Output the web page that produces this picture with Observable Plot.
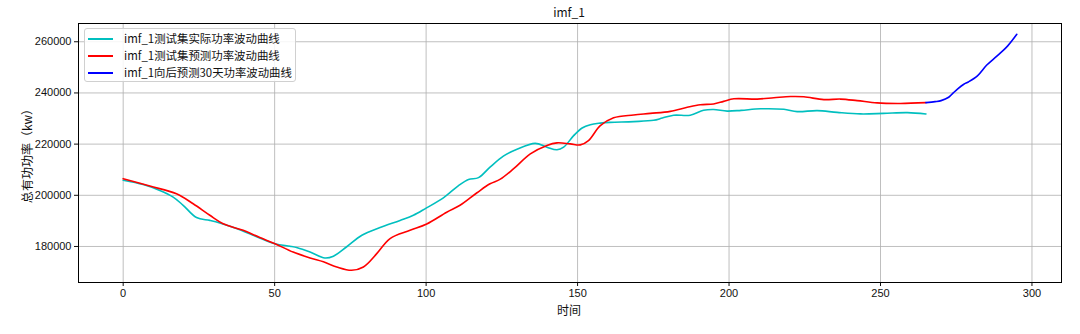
<!DOCTYPE html>
<html><head><meta charset="utf-8">
<script src="https://cdn.jsdelivr.net/npm/d3@7"></script>
<script src="https://cdn.jsdelivr.net/npm/@observablehq/plot@0.6"></script>
<style>
body{margin:0;background:#fff;}
#wrap{position:relative;width:1080px;height:334px;font-family:"Noto Sans CJK SC","DejaVu Sans",sans-serif;color:#111;}
.ov{position:absolute;white-space:nowrap;line-height:1;}
#title{left:569px;top:6px;transform:translateX(-50%);font-size:12px;}
#xlabel{left:569px;top:304px;transform:translateX(-50%);font-size:12px;}
#ylabel{left:27px;top:153px;transform:translate(-50%,-50%) rotate(-90deg);font-size:12px;}
#legend{left:84px;top:28px;width:210px;height:52px;border:1px solid #d0d0d0;border-radius:3px;background:rgba(255,255,255,0.85);}
.li{position:absolute;left:0;height:16px;}
.li .sw{position:absolute;left:3px;top:8px;width:25px;height:0;border-top:2px solid;}
.li .tx{position:absolute;left:39px;top:2px;font-size:11px;line-height:13px;}
</style></head><body>
<div id="wrap"></div>
<script>
// ---- data ----
const actualT = [0,6.6,12.1,16.5,19.8,24.2,28.6,31.9,37.4,42.9,50.1,55.1,57.5,61.7,66.6,69.4,73.8,78.8,84.8,91.4,95.8,100,105.7,110.7,114,117.3,121.1,125.5,130,136,139.9,143.2,145.4,148.7,151.5,154.2,157.5,160.8,168.5,175.1,178,181.7,187.2,191.6,194.9,199.4,204,210.4,218.1,222.5,229.1,235.7,243.4,251,258.9,265];
const actualV = [205900,204200,201900,199300,196100,191300,190200,189200,187000,184400,181100,180100,179500,177800,175500,176200,179900,184400,187400,190200,192200,195000,199000,203800,206200,206900,211000,215300,218000,220300,218800,217800,218800,223300,226300,227600,228200,228500,228800,229300,230200,231300,231300,233200,233500,232900,233200,233800,233600,232700,233100,232400,231800,232000,232300,231800];

const predT = [0,8.8,17.6,23.1,28.6,33,39.6,45.1,50.1,56.1,61.7,66.1,70.5,75.4,79.3,83.7,88.1,94.7,100.2,106.8,111.2,116.8,121.1,124.5,128.9,134.4,139.9,143.2,147.6,150.9,153.6,157.5,161.9,168.5,174,180.6,186.2,190.5,194.9,198.2,201.6,209.3,214.8,220.3,224.7,231.3,236.8,242.3,248.9,256.6,265];
const predV = [206500,203600,200600,196700,192200,188900,186300,183500,181100,177800,175500,174000,172000,170700,172000,177200,183100,186300,188800,193400,196100,201000,204500,206300,210400,216200,219500,220500,220100,219700,221400,227200,230300,231400,232000,232800,234400,235400,235700,236700,237700,237600,238100,238600,238500,237400,237600,237000,236100,235900,236200];

const futureT = [265,268,270,272.5,274,275.5,277.5,279,282,285,288.5,292,295];
const futureV = [236200,236600,237000,238300,240000,241600,243400,244300,246700,250800,254500,258400,262900];

const seriesNames = ["imf_1测试集实际功率波动曲线","imf_1测试集预测功率波动曲线","imf_1向后预测30天功率波动曲线"];
const seriesColors = ["#00bfbf","#ff0000","#0000ff"];
const xTicks = [0,50,100,150,200,250,300];
const yTicks = [180000,200000,220000,240000,260000];
const titleText = "imf_1";
const xLabel = "时间";
const yLabel = "总有功功率（kw）";

const toRows = (ts, vs, s) => ts.map((t,i)=>({t, v: vs[i], s}));
const rows = [
  ...toRows(actualT, actualV, seriesNames[0]),
  ...toRows(predT, predV, seriesNames[1]),
  ...toRows(futureT, futureV, seriesNames[2])
];

const chart = Plot.plot({
  width: 1080, height: 334,
  marginLeft: 78, marginRight: 19, marginTop: 23, marginBottom: 52,
  style: {fontFamily: '"Liberation Sans","DejaVu Sans",sans-serif', fontSize: "11px", color: "#111", background: "transparent"},
  x: {domain: [-14.75, 309.75]},
  y: {domain: [165925, 267135]},
  color: {domain: seriesNames, range: seriesColors},
  marks: [
    Plot.gridX({ticks: xTicks, stroke: "#b0b0b0", strokeOpacity: 0.9, strokeWidth: 0.9}),
    Plot.gridY({ticks: yTicks, stroke: "#b0b0b0", strokeOpacity: 0.9, strokeWidth: 0.9}),
    Plot.line(rows, {x: "t", y: "v", z: "s", stroke: "s", strokeWidth: 1.6, curve: "catmull-rom"}),
    Plot.axisX({ticks: xTicks, tickSize: 4, tickPadding: 3, label: null, tickFormat: d => String(d)}),
    Plot.axisY({ticks: yTicks, tickSize: 4, tickPadding: 3, label: null, tickFormat: d => String(d)}),
    Plot.frame({stroke: "#000", strokeWidth: 1})
  ]
});

const wrap = document.getElementById("wrap");
wrap.appendChild(chart);
chart.style.position="absolute"; chart.style.left="0"; chart.style.top="0";
function ov(id, text){ const d=document.createElement("div"); d.className="ov"; d.id=id; d.textContent=text; wrap.appendChild(d); return d; }
ov("title", titleText); ov("xlabel", xLabel); ov("ylabel", yLabel);
const lg = document.createElement("div"); lg.className="ov"; lg.id="legend"; wrap.appendChild(lg);
const txs = [];
seriesNames.forEach((n,i)=>{
  const it=document.createElement("div"); it.className="li"; it.style.top=(1+i*17)+"px";
  const sw=document.createElement("div"); sw.className="sw"; sw.style.borderTopColor=seriesColors[i];
  const tx=document.createElement("div"); tx.className="tx"; tx.textContent=n;
  it.appendChild(sw); it.appendChild(tx); lg.appendChild(it); txs.push(tx);
});
// fit each legend entry to the width it has in the reference
const legendWidths = [156, 156, 168];
txs.forEach((t, i) => {
  const w = t.getBoundingClientRect().width;
  if (w > 0) t.style.fontSize = (11 * legendWidths[i] / w) + "px";
});
</script>
</body></html>
